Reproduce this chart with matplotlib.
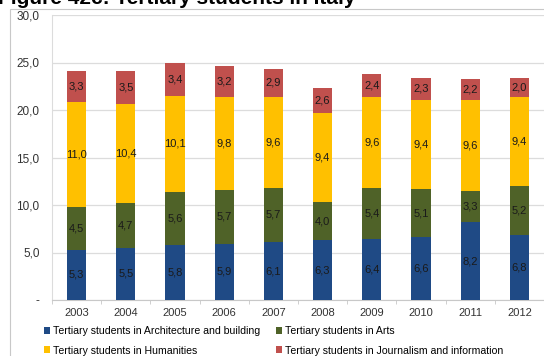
import matplotlib
matplotlib.use('Agg')
import matplotlib.pyplot as plt
from matplotlib.patches import Rectangle
import numpy as np

plt.rcParams['font.family'] = ['Liberation Sans', 'DejaVu Sans']

# data
years = ['2003', '2004', '2005', '2006', '2007', '2008', '2009', '2010', '2011', '2012']
architecture = [5.3, 5.5, 5.8, 5.9, 6.1, 6.3, 6.4, 6.6, 8.2, 6.8]
arts = [4.5, 4.7, 5.6, 5.7, 5.7, 4.0, 5.4, 5.1, 3.3, 5.2]
humanities = [11.0, 10.4, 10.1, 9.8, 9.6, 9.4, 9.6, 9.4, 9.6, 9.4]
journalism = [3.3, 3.5, 3.4, 3.2, 2.9, 2.6, 2.4, 2.3, 2.2, 2.0]

series = [
    ('Tertiary students in Architecture and building', architecture, '#1f4a85'),
    ('Tertiary students in Arts', arts, '#4f6228'),
    ('Tertiary students in Humanities', humanities, '#ffc000'),
    ('Tertiary students in Journalism and information', journalism, '#c0504d'),
]

W, H = 544, 356
fig = plt.figure(figsize=(W / 100, H / 100), dpi=100)

# outer chart frame
fig.patches.append(Rectangle((10 / W, -0.05), 1.0, (H - 9) / H + 0.05,
                             transform=fig.transFigure, fill=False,
                             edgecolor='#c8c8c8', linewidth=0.8))

# title, cut off at the top as in the source
fig.text(-2 / W, 1 - 4 / H, 'Figure 42c: Tertiary students in Italy',
         fontsize=15, fontweight='bold', ha='left', va='baseline')

ax = fig.add_axes([52 / W, 56 / H, (W - 52) / W, 285 / H])
x = np.arange(len(years))
bottom = np.zeros(len(years))
handles = []
for name, vals, col in series:
    vals = np.array(vals)
    bars = ax.bar(x, vals, 0.39, bottom=bottom, color=col, label=name, zorder=3)
    handles.append(bars)
    for xi, b, v in zip(x, bottom, vals):
        ax.text(xi, b + v / 2, f'{v:.1f}'.replace('.', ','), ha='center', va='center',
                fontsize=8, color='#1a1a1a', zorder=4)
    bottom += vals

ax.set_xlim(-0.5, 9.48)
ax.set_ylim(0, 30)
ax.set_yticks(np.arange(0, 31, 5))
ax.set_yticklabels(['-'] + [f'{v:.1f}'.replace('.', ',') for v in np.arange(5, 31, 5)])
ax.set_xticks(x)
ax.set_xticklabels(years)
ax.set_xticks(np.arange(-0.5, 10, 1), minor=True)
ax.tick_params(axis='x', which='major', length=0, labelsize=8, pad=6, colors='#333333')
ax.tick_params(axis='x', which='minor', length=3, color='#c8c8c8')
ax.tick_params(axis='y', length=0, labelsize=8.5, pad=9, colors='#333333')
ax.grid(axis='y', color='#dcdcdc', linewidth=0.9, zorder=0)
for s in ['top', 'right']:
    ax.spines[s].set_visible(False)
ax.spines['left'].set_color('#dcdcdc')
ax.spines['bottom'].set_color('#c8c8c8')

# legend filled row by row
order = [0, 2, 1, 3]
fig.legend([handles[i] for i in order], [series[i][0] for i in order],
           loc='lower left', bbox_to_anchor=(34 / W, -9 / H), ncol=2,
           frameon=False, fontsize=7.6, handlelength=0.6, handleheight=0.6,
           handletextpad=0.3, columnspacing=1.5, labelspacing=0.9)

fig.savefig('out.png', dpi=100)
